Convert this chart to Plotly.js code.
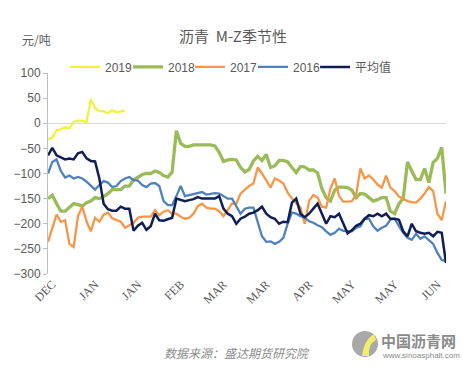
<!DOCTYPE html>
<html>
<head>
<meta charset="utf-8">
<script src="https://cdn.plot.ly/plotly-3.0.1.min.js"></script>
<style>html,body{margin:0;padding:0;background:#fff;}#chart{width:466px;height:370px;}</style>
</head>
<body>
<div id="chart"></div>
<script>
// Tick labels on the category axis
var tickPositions = [1, 11, 21, 31, 41, 51, 61, 71, 81, 91];
var tickLabels = ["DEC", "JAN", "JAN", "FEB", "MAR", "MAR", "APR", "MAY", "MAY", "JUN"];

// Series values (元/吨), one value per trading-day step
var s2019 = [-33, -28, -14, -12, -8, -10, 3, 5, 5, 2, 48, 30, 24, 24, 20, 26, 22, 24, 25];

var s2018 = [-150, -143, -160, -175, -175, -167, -160, -162, -165, -158,
  -155, -148, -150, -146, -140, -132, -132, -132, -125, -125,
  -113, -108, -102, -100, -100, -95, -98, -104, -107, -97,
  -15, -40, -46, -46, -43, -43, -43, -43, -43, -45,
  -58, -76, -73, -72, -73, -88, -97, -92, -75, -66,
  -74, -62, -88, -85, -74, -74, -77, -88, -98, -86,
  -87, -93, -93, -99, -130, -148, -155, -133, -127, -127,
  -128, -133, -148, -140, -141, -148, -155, -152, -148, -148,
  -175, -180, -160, -150, -77, -95, -112, -112, -90, -118,
  -78, -70, -48, -140];

var s2017 = [-236, -208, -182, -196, -193, -240, -246, -185, -166, -195,
  -215, -188, -196, -182, -178, -189, -192, -196, -208, -203,
  -198, -188, -186, -186, -186, -173, -183, -176, -173, -180,
  -180, -186, -190, -188, -180, -165, -160, -168, -170, -170,
  -175, -185, -173, -160, -160, -140, -132, -125, -120, -88,
  -100, -114, -128, -110, -114, -120, -138, -150, -160, -168,
  -200, -155, -143, -148, -166, -168, -130, -110, -145, -156,
  -156, -155, -142, -90, -110, -104, -112, -122, -128, -104,
  -128, -135, -146, -151, -155, -157, -158, -150, -140, -127,
  -135, -180, -193, -155];

var s2016 = [-100, -77, -72, -95, -108, -104, -110, -107, -110, -116,
  -124, -132, -123, -115, -118, -127, -125, -115, -110, -107,
  -113, -114, -123, -127, -120, -119, -125, -155, -163, -163,
  -145, -125, -145, -143, -141, -138, -137, -142, -141, -139,
  -140, -145, -150, -150, -165, -180, -170, -168, -168, -195,
  -225, -236, -235, -240, -236, -228, -200, -178, -180, -185,
  -188, -195, -198, -203, -207, -215, -222, -218, -210, -214,
  -214, -215, -208, -205, -190, -190, -205, -214, -208, -204,
  -192, -190, -205, -218, -228, -232, -220, -230, -225, -232,
  -240, -258, -272, -274];

var sAvg = [-64, -49, -64, -68, -72, -70, -72, -60, -57, -70,
  -75, -76, -110, -160, -171, -174, -174, -166, -170, -170,
  -214, -204, -198, -212, -205, -180, -193, -194, -191, -188,
  -150, -152, -155, -153, -151, -147, -150, -150, -150, -150,
  -145, -170, -180, -185, -200, -190, -186, -180, -178, -173,
  -166, -180, -187, -190, -200, -196, -197, -158, -150, -180,
  -187, -180, -170, -160, -180, -200, -185, -187, -180, -200,
  -219, -213, -204, -200, -190, -183, -185, -180, -185, -180,
  -190, -190, -192, -215, -225, -200, -215, -218, -220, -218,
  -225, -216, -218, -278];

function idx(arr) { return arr.map(function (_, i) { return i; }); }

var series = [
  {name: "2019", y: s2019, color: "#F2F23C", w: 2.3},
  {name: "2018", y: s2018, color: "#9BBB59", w: 3.3},
  {name: "2017", y: s2017, color: "#F79646", w: 2.3},
  {name: "2016", y: s2016, color: "#4F81BD", w: 2.3},
  {name: "平均值", y: sAvg, color: "#0F1F55", w: 2.5}
];
var legendX = [0.0427, 0.201, 0.3568, 0.515, 0.671];
var legendFont = {family: "Liberation Sans, Noto Sans CJK SC, sans-serif", size: 12, color: "#595959"};

var traces = series.map(function (t, i) {
  return {
    type: "scatter", mode: "lines", name: t.name,
    legend: i === 0 ? "legend" : "legend" + (i + 1),
    x: idx(t.y), y: t.y,
    line: {color: t.color, width: t.w}
  };
});

var layout = {
  width: 466, height: 370,
  margin: {l: 48, r: 20, t: 73, b: 96},
  paper_bgcolor: "#ffffff", plot_bgcolor: "#ffffff",
  font: {family: "Liberation Sans, Arial, sans-serif", color: "#595959", size: 12},
  title: {
    text: "沥青  M-Z季节性",
    font: {family: "Noto Sans CJK SC, sans-serif", size: 15, color: "#595959"},
    x: 0.5, xanchor: "center", y: 0.9, yanchor: "middle"
  },
  showlegend: true,
  xaxis: {
    range: [0, 93],
    tickmode: "array", tickvals: tickPositions, ticktext: tickLabels,
    tickangle: -45,
    tickfont: {family: "Liberation Serif, Times New Roman, serif", size: 12, color: "#595959"},
    showgrid: false, zeroline: false, showline: false, ticks: "",
    fixedrange: true
  },
  yaxis: {
    range: [-300, 100], dtick: 50, tick0: 0,
    showgrid: false,
    zeroline: true, zerolinecolor: "#D9D9D9", zerolinewidth: 1,
    showline: true, linecolor: "#BFBFBF", linewidth: 1,
    ticks: "outside", ticklen: 4, tickcolor: "#BFBFBF",
    tickfont: {family: "Liberation Sans, Arial, sans-serif", size: 12, color: "#595959"},
    fixedrange: true
  },
  shapes: [
    {type: "circle", xref: "paper", yref: "paper",
     x0: (352 - 48) / 398, x1: (378 - 48) / 398,
     y0: (274 - 357) / 201, y1: (274 - 331) / 201,
     fillcolor: "#9a9a9a", line: {width: 0}, opacity: 0.85},
    {type: "path", xref: "paper", yref: "paper",
     path: "M " + ((362 - 48) / 398) + "," + ((274 - 356) / 201) +
           " Q " + ((364 - 48) / 398) + "," + ((274 - 340) / 201) + " " + ((374 - 48) / 398) + "," + ((274 - 334) / 201) +
           " L " + ((376 - 48) / 398) + "," + ((274 - 340) / 201) +
           " Q " + ((368 - 48) / 398) + "," + ((274 - 344) / 201) + " " + ((369 - 48) / 398) + "," + ((274 - 356) / 201) + " Z",
     fillcolor: "#F2EE6A", line: {width: 0}}
  ],
  annotations: [
    {text: "元/吨", xref: "paper", yref: "paper", x: (20 - 48) / 398, y: (274 - 40) / 201,
     xanchor: "left", yanchor: "middle", showarrow: false,
     font: {family: "Noto Sans CJK SC, sans-serif", size: 12, color: "#595959"}},
    {text: "<i>数据来源：盛达期货研究院</i>", xref: "paper", yref: "paper",
     x: (237 - 48) / 398, y: (274 - 352) / 201, xanchor: "center", yanchor: "middle", showarrow: false,
     font: {family: "Noto Sans CJK SC, sans-serif", size: 12, color: "#8c8c8c"}},
    {text: "<b>中国沥青网</b>", xref: "paper", yref: "paper",
     x: (379 - 48) / 398, y: (274 - 340) / 201, xanchor: "left", yanchor: "middle", showarrow: false,
     font: {family: "Noto Sans CJK SC, sans-serif", size: 15, color: "#8a8a8a"}},
    {text: "www.sinoasphalt.com", xref: "paper", yref: "paper",
     x: (380 - 48) / 398, y: (274 - 355) / 201, xanchor: "left", yanchor: "middle", showarrow: false,
     font: {family: "Liberation Sans, Arial, sans-serif", size: 8, color: "#8a8a8a"}}
  ]
};

legendX.forEach(function (lx, i) {
  layout[i === 0 ? "legend" : "legend" + (i + 1)] = {
    orientation: "h", x: lx, xanchor: "left", y: 1.03, yanchor: "middle",
    font: legendFont, itemwidth: 30,
    bgcolor: "rgba(0,0,0,0)", tracegroupgap: 0
  };
});

Plotly.newPlot("chart", traces, layout, {displayModeBar: false, staticPlot: true});
</script>
</body>
</html>
